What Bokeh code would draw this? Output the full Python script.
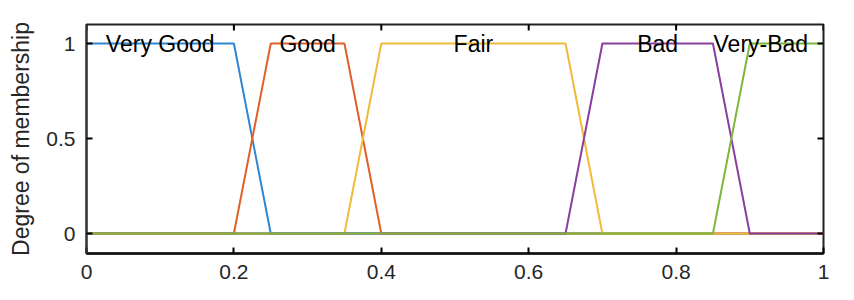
import math
from bokeh.plotting import figure
from bokeh.models import Range1d, LinearAxis, FixedTicker
from bokeh.core.properties import value
from bokeh.embed import file_html
from bokeh.resources import INLINE

# ---- data ----
mf_names = ["Very Good", "Good", "Fair", "Bad", "Very-Bad"]
very_good_x = [0, 0.2, 0.25, 1]
very_good_y = [1, 1, 0, 0]
good_x = [0, 0.2, 0.25, 0.35, 0.4, 1]
good_y = [0, 0, 1, 1, 0, 0]
fair_x = [0, 0.35, 0.4, 0.65, 0.7, 1]
fair_y = [0, 0, 1, 1, 0, 0]
bad_x = [0, 0.65, 0.7, 0.85, 0.9, 1]
bad_y = [0, 0, 1, 1, 0, 0]
very_bad_x = [0, 0.85, 0.9, 1]
very_bad_y = [0, 0, 1, 1]
label_x = [0.1, 0.3, 0.525, 0.775, 0.915]
label_y = [1, 1, 1, 1, 1]
x_ticks = [0, 0.2, 0.4, 0.6, 0.8, 1]
x_tick_labels = ["0", "0.2", "0.4", "0.6", "0.8", "1"]
y_ticks = [0, 0.5, 1]
y_tick_labels = ["0", "0.5", "1"]

colors = ["#2f86d2", "#e0602a", "#f0bb3a", "#8a3fa0", "#7cb83a"]
FONT = "Liberation Sans"
DARK = "#262626"
X0, X1 = 0, 1
Y0, Y1 = -0.105, 1.1

p = figure(width=854, height=300, output_backend="svg", toolbar_location=None,
           x_range=Range1d(X0, X1), y_range=Range1d(Y0, Y1),
           min_border_left=86, min_border_right=31, min_border_top=24, min_border_bottom=47,
           x_axis_location=None, y_axis_location=None)
p.grid.visible = False
p.outline_line_color = "#222222"
p.outline_line_width = 2
p.background_fill_color = "white"
p.border_fill_color = "white"

series = [(very_good_x, very_good_y), (good_x, good_y), (fair_x, fair_y),
          (bad_x, bad_y), (very_bad_x, very_bad_y)]
for (xs, ys), c in zip(series, colors):
    p.line(xs, ys, line_color=c, line_width=2)

p.text(x=label_x, y=label_y, text=mf_names, text_align="center",
       text_baseline="alphabetic", text_font=value(FONT),
       text_font_size="23px", text_color="black")

# mirrored inward ticks on the top and right edges (clipped to the frame)
p.scatter(x=x_ticks, y=[Y1] * len(x_ticks), marker="dash", size=12,
          angle=math.pi / 2, line_color="black", line_width=2)
p.scatter(x=[X1] * len(y_ticks), y=y_ticks, marker="dash", size=12,
          line_color="black", line_width=2)

def style(axis, ticks, labels):
    axis.ticker = FixedTicker(ticks=ticks)
    axis.major_label_overrides = dict(zip(ticks, labels))
    axis.minor_tick_line_color = None
    axis.major_tick_in = 6
    axis.major_tick_out = 0
    axis.major_tick_line_color = "black"
    axis.major_tick_line_width = 2
    axis.axis_line_color = "#111111"
    axis.axis_line_width = 2.5
    axis.major_label_text_font = FONT
    axis.major_label_text_color = DARK
    axis.major_label_text_font_size = "21px"
    axis.major_label_standoff = 11

xb = LinearAxis()
style(xb, x_ticks, x_tick_labels)
p.add_layout(xb, "below")
yl = LinearAxis(axis_label="Degree of membership")
style(yl, y_ticks, y_tick_labels)
yl.axis_line_color = "#333333"
yl.axis_line_width = 2
yl.axis_label_text_font = FONT
yl.axis_label_text_font_size = "23px"
yl.axis_label_text_font_style = "normal"
yl.axis_label_text_color = DARK
yl.axis_label_standoff = 9
p.add_layout(yl, "left")

open("out.html", "w").write(file_html(p, INLINE))
